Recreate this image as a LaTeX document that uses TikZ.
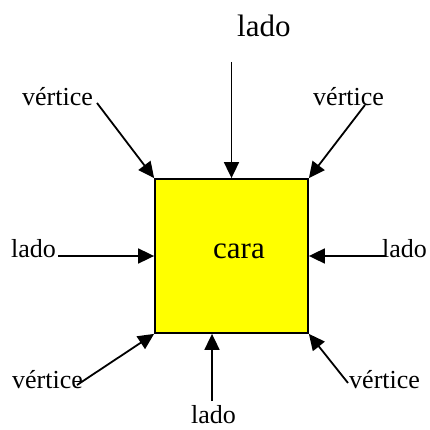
\documentclass[tikz,border=0pt]{standalone}
\usepackage{fontspec}
\setmainfont{Liberation Serif}
\usetikzlibrary{arrows.meta}
\definecolor{faceyellow}{HTML}{FFFF00}
\tikzset{
  facenode/.style={draw=black,line width=1.8pt,fill=faceyellow,minimum width=153pt,minimum height=154pt,inner sep=0pt},
  lblnode/.style={inner sep=0pt,anchor=base west,font=\fontsize{26}{30}\selectfont},
  biglbl/.style={lblnode,font=\fontsize{31}{36}\selectfont},
  ptredge/.style={-{Triangle[length=16pt,width=15pt]},line width=1.8pt,black},
}
\begin{document}
\begin{tikzpicture}[x=1pt,y=-1pt]
  \useasboundingbox (0,0) rectangle (429,430);
  \node[facenode] (face) at (231.5,256) {};
  \node[biglbl,anchor=base] (tCara) at (239,258) {cara};
  \node[biglbl] (tLadoT) at (237,37) {lado};
  \node[lblnode] (tVertTL) at (22,106) {vértice};
  \node[lblnode] (tVertTR) at (313,106) {vértice};
  \node[lblnode] (tLadoL) at (11,257) {lado};
  \node[lblnode] (tLadoR) at (382,257) {lado};
  \node[lblnode] (tVertBL) at (12,388) {vértice};
  \node[lblnode] (tLadoB) at (191,423) {lado};
  \node[lblnode] (tVertBR) at (349,388) {vértice};
  \coordinate (cT) at (231.5,62);
  \coordinate (cTL) at (97,103);
  \coordinate (cTR) at (365,105);
  \coordinate (cL) at (58,256);
  \coordinate (cR) at (385,256);
  \coordinate (cBL) at (77,385);
  \coordinate (cB) at (212,401);
  \coordinate (cBR) at (348,383);
  \draw[ptredge] (cT) -- (face.north);
  \draw[ptredge] (cTL) -- (face.north west);
  \draw[ptredge] (cTR) -- (face.north east);
  \draw[ptredge] (cL) -- (face.west);
  \draw[ptredge] (cR) -- (face.east);
  \draw[ptredge] (cBL) -- (face.south west);
  \draw[ptredge] (cB) -- (cB |- face.south);
  \draw[ptredge] (cBR) -- (face.south east);
\end{tikzpicture}
\end{document}
